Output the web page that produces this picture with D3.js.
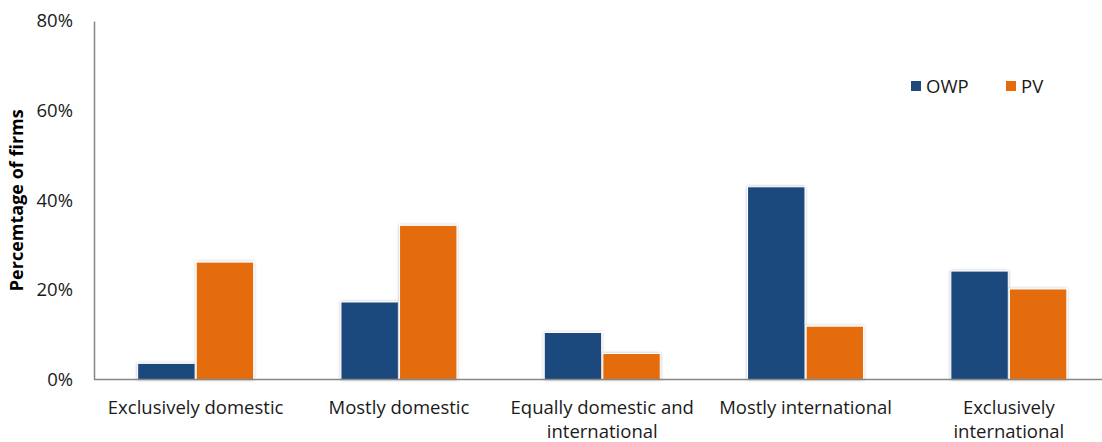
<!DOCTYPE html>
<html>
<head>
<meta charset="utf-8">
<script src="https://cdn.jsdelivr.net/npm/d3@7"></script>
<style>
  html, body { margin: 0; padding: 0; background: #fff; }
  svg { display: block; font-family: "Open Sans", Lato, sans-serif; }
</style>
</head>
<body>
<svg id="chart" width="1102" height="442"></svg>
<script>
// Share of firms by sales orientation, per sector
const categories = [
  ["Exclusively domestic"],
  ["Mostly domestic"],
  ["Equally domestic and", "international"],
  ["Mostly international"],
  ["Exclusively", "international"]
];
const seriesNames = ["OWP", "PV"];
const owpValues = [0.036, 0.173, 0.105, 0.430, 0.242];
const pvValues  = [0.262, 0.344, 0.058, 0.119, 0.202];
const yTicks = [0, 0.2, 0.4, 0.6, 0.8];
const colors = { OWP: "#1F497D", PV: "#E46C0A" };

const FONT = 18.5;
const svg = d3.select("#chart");
const plotLeft = 94, plotRight = 1110.5, plotTop = 21, plotBottom = 379.5;

const defs = svg.append("defs");
const f = defs.append("filter").attr("id", "soft").attr("x", "-20%").attr("y", "-20%").attr("width", "140%").attr("height", "140%");
f.append("feDropShadow").attr("dx", 0).attr("dy", 0).attr("stdDeviation", 1.6)
  .attr("flood-color", "#000").attr("flood-opacity", 0.28);

const keys = categories.map(c => c.join(" "));
const x0 = d3.scaleBand().domain(keys).range([plotLeft, plotRight]).paddingInner(0.4294).paddingOuter(0.2147);
const x1 = d3.scaleBand().domain(seriesNames).range([0, x0.bandwidth()]).paddingInner(0.02);
const y = d3.scaleLinear().domain([0, 0.8]).range([plotBottom, plotTop]);

const rows = keys.map((k, i) => ({ key: k, OWP: owpValues[i], PV: pvValues[i] }));

// bars
const groups = svg.append("g").selectAll("g").data(rows).join("g")
  .attr("transform", d => `translate(${x0(d.key)},0)`);
groups.selectAll("rect")
  .data(d => seriesNames.map(s => ({ s, v: d[s] })))
  .join("rect")
  .attr("x", d => x1(d.s))
  .attr("width", x1.bandwidth())
  .attr("y", d => y(d.v))
  .attr("height", d => y(0) - y(d.v))
  .attr("fill", d => colors[d.s])
  .attr("stroke", "#fff")
  .attr("stroke-width", 1)
  .attr("filter", "url(#soft)");

// y axis
const yAxis = d3.axisLeft(y).tickValues(yTicks).tickFormat(d3.format(".0%")).tickSize(0).tickPadding(21);
const ya = svg.append("g").attr("transform", `translate(${plotLeft},0)`).call(yAxis);
ya.select(".domain").attr("stroke", "#868686").attr("stroke-width", 1.5);
ya.selectAll("text").attr("font-size", FONT).attr("fill", "#1a1a1a").attr("font-family", "'Open Sans', sans-serif");

// baseline
svg.append("line").attr("x1", plotLeft).attr("x2", 1102).attr("y1", y(0)).attr("y2", y(0))
  .attr("stroke", "#868686").attr("stroke-width", 1.5);

// category labels (second lines run down to the lower edge)
const labels = svg.append("g").selectAll("text").data(categories).join("text")
  .attr("x", (d, i) => x0(keys[i]) + x0.bandwidth() / 2)
  .attr("y", 414)
  .attr("text-anchor", "middle")
  .attr("font-size", FONT)
  .attr("fill", "#1a1a1a");
labels.selectAll("tspan").data(d => d).join("tspan")
  .attr("x", function() { return d3.select(this.parentNode).attr("x"); })
  .attr("dy", (d, i) => i === 0 ? 0 : 24)
  .text(d => d);

// y title
svg.append("text")
  .attr("transform", `translate(23,${(plotTop + plotBottom) / 2}) rotate(-90)`)
  .attr("text-anchor", "middle")
  .attr("font-size", 18)
  .attr("font-weight", "bold")
  .attr("fill", "#000")
  .text("Percemtage of firms");

// legend
const legendPos = [911, 1006];
const lg = svg.append("g").selectAll("g").data(seriesNames).join("g")
  .attr("transform", (d, i) => `translate(${legendPos[i]},81)`);
lg.append("rect").attr("width", 10).attr("height", 10).attr("fill", d => colors[d]);
lg.append("text").attr("x", 15).attr("y", 11.5).attr("font-size", FONT).attr("fill", "#1a1a1a").text(d => d);
</script>
</body>
</html>
